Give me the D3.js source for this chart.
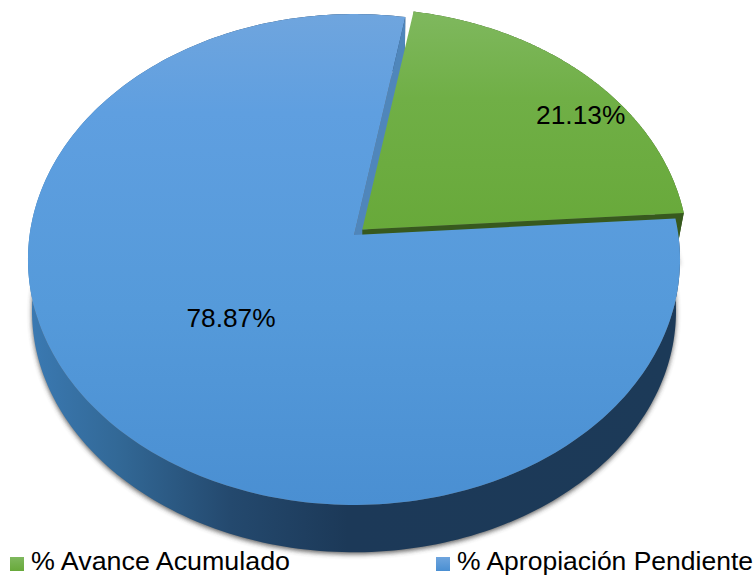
<!DOCTYPE html>
<html>
    <head>
        <title>Avance</title>
        <meta charset="UTF-8">
        <script src="https://cdn.jsdelivr.net/npm/d3@7"></script>
        <style>
            body { margin: 0; background: #fff; }
            text { font-family: "Liberation Sans", Arial, sans-serif; fill: #000; }
        </style>
    </head>
    <body>
        <script>
var categories = ["% Avance Acumulado", "% Apropiación Pendiente"];
var values = [21.13, 78.87];
var labels = ["21.13%", "78.87%"];

var Width = 756, Height = 576;
var rad = Math.PI / 180;

// perspective ellipse for the top face and for the bottom of the wall
var topFace = {cy: 235, w: 324.4, h: 243, p: 0.0998};
var botFace = {cy: 287, w: 320.4, h: 238.8, p: 0.0998};
var botGreen = {cy: 287, w: 314.4, h: 238.8, p: 0.0998};
var cx = 354;
var explode = [{x: 8.3, y: -5.5}, {x: 0, y: 0}];

var svg = d3.select("body").append("svg")
            .attr("width", Width)
            .attr("height", Height)
            .style("display", "block");

var pie = d3.pie().sort(null).startAngle(10 * rad).endAngle(370 * rad);
var slices = pie(values);

function project(face, a, r, off){
    var s = r * Math.sin(a), c = r * Math.cos(a);
    var k = 1 + face.p * c;
    return [cx + off.x + face.w * s / k, face.cy + off.y - face.h * c / k];
}
function arcPoints(face, d, off){
    var n = 240;
    return d3.range(n + 1).map(function(i){
        return project(face, d.startAngle + (d.endAngle - d.startAngle) * i / n, 1, off);
    });
}
var line = d3.line();

function wedge(face, d, off){
    return line([project(face, 0, 0, off)].concat(arcPoints(face, d, off))) + "Z";
}
function band(low, d, off){
    return line(arcPoints(topFace, d, off).concat(arcPoints(low, d, off).reverse())) + "Z";
}
function cutWall(low, a, off){
    return line([project(topFace, 0, 0, off), project(topFace, a, 1, off),
                 project(low, a, 1, off), project(low, 0, 0, off)]) + "Z";
}

var defs = svg.append("defs");
function gradient(id, x2, y2, stops){
    var g = defs.append("linearGradient").attr("id", id)
                .attr("x1", 0).attr("y1", 0).attr("x2", x2).attr("y2", y2);
    stops.forEach(function(s){
        g.append("stop").attr("offset", s[0]).attr("stop-color", s[1]);
    });
}
gradient("blueTop", 0, 1, [[0, "#6fa5de"], [0.2, "#5f9fe0"], [0.6, "#559ada"], [1, "#4a8fd2"]]);
gradient("greenTop", 0, 1, [[0, "#7fb85e"], [0.4, "#70af46"], [1, "#68a93a"]]);
gradient("blueSwatch", 0, 1, [[0, "#6fa5de"], [1, "#4a8fd2"]]);
gradient("greenSwatch", 0, 1, [[0, "#7fb85e"], [1, "#68a93a"]]);
gradient("blueWall", 1, 0, [
    [0, "#3b7ab3"], [0.14, "#326896"], [0.31, "#24496e"], [0.49, "#1c3958"], [1, "#1c3a58"]
]);

var blur = defs.append("filter").attr("id", "soft")
               .attr("x", "-5%").attr("y", "-5%").attr("width", "110%").attr("height", "110%");
blur.append("feGaussianBlur").attr("stdDeviation", 2.4);

var green = slices[0], blue = slices[1];

// soft shadows under the walls
svg.append("path")
   .attr("d", wedge(botFace, green, explode[0]))
   .attr("fill", "#3a3a3a").attr("opacity", 0.5).attr("filter", "url(#soft)");
svg.append("path")
   .attr("d", wedge(botFace, {startAngle: 0, endAngle: 2 * Math.PI}, {x: 0, y: 2}))
   .attr("fill", "#3a3a3a").attr("opacity", 0.8).attr("filter", "url(#soft)");

svg.append("path").attr("d", band(botFace, blue, explode[1])).attr("fill", "url(#blueWall)");
svg.append("path").attr("d", cutWall(botFace, blue.endAngle, explode[1])).attr("fill", "#4f86bb");
svg.append("path").attr("d", band(botGreen, green, explode[0])).attr("fill", "#37591e");
svg.append("path").attr("d", cutWall(botGreen, green.endAngle, explode[0])).attr("fill", "#37591e");
svg.append("path").attr("d", wedge(topFace, green, explode[0])).attr("fill", "url(#greenTop)");
svg.append("path").attr("d", wedge(topFace, blue, explode[1])).attr("fill", "url(#blueTop)");

// data labels
var labelTurn = [7 * rad, 0], labelRadius = [0.862, 0.493];
slices.forEach(function(d, i){
    var pos = project(topFace, (d.startAngle + d.endAngle) / 2 + labelTurn[i], labelRadius[i], explode[i]);
    svg.append("text")
       .attr("x", pos[0]).attr("y", pos[1])
       .attr("text-anchor", "middle").attr("dominant-baseline", "central")
       .attr("font-size", 26.3).text(labels[i]);
});

// legend
var legendX = d3.scaleOrdinal().domain(categories).range([10, 436]);
var legendGap = [21, 21], legendLength = [259, 296];
var swatches = ["url(#greenSwatch)", "url(#blueSwatch)"];
categories.forEach(function(c, i){
    svg.append("rect").attr("x", legendX(c)).attr("y", 557)
       .attr("width", 14).attr("height", 14).attr("fill", swatches[i]);
    svg.append("text").attr("x", legendX(c) + legendGap[i]).attr("y", 570)
       .attr("font-size", 26)
       .attr("textLength", legendLength[i]).attr("lengthAdjust", "spacingAndGlyphs")
       .text(c);
});
        </script>
    </body>
</html>
